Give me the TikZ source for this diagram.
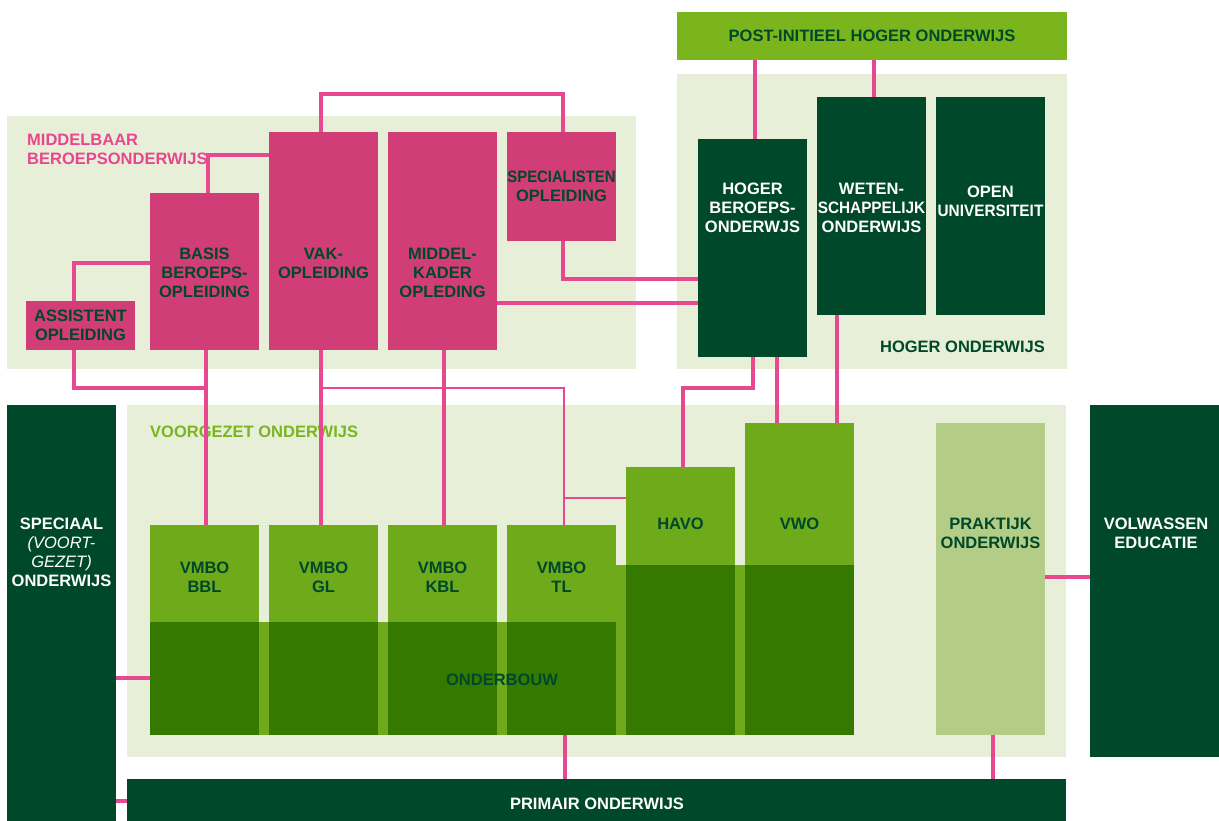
\documentclass[tikz,border=0pt]{standalone}
\usepackage{fontspec}
\setmainfont{Liberation Sans}
\usepackage{graphicx}

\definecolor{panel}{HTML}{E8EFD8}
\definecolor{pinkbox}{HTML}{D13D76}
\definecolor{pinkline}{HTML}{E8488F}
\definecolor{dkgreen}{HTML}{00482A}
\definecolor{postgreen}{HTML}{7AB51E}
\definecolor{midgreen}{HTML}{6FAA1A}
\definecolor{lowgreen}{HTML}{367901}
\definecolor{prakgreen}{HTML}{B4CD86}
\definecolor{votitle}{HTML}{79B51F}
\definecolor{mbotitle}{HTML}{E8468E}

% block from (x1,y1) to (x2,y2), y measured downwards
\newcommand\blk[6]{\node[#6, anchor=north west, inner sep=0pt, outer sep=0pt,
  minimum width={(#4)-(#2)}, minimum height={(#5)-(#3)}] (#1) at (#2,#3) {};}
\newcommand\sq[2]{\scalebox{#1}[1]{#2}}

\begin{document}
\begin{tikzpicture}[x=1pt, y=-1pt,
  panelbox/.style={fill=panel},
  mbobox/.style={fill=pinkbox},
  hobox/.style={fill=dkgreen},
  vobox/.style={fill=midgreen},
  lowbox/.style={fill=lowgreen},
  prakbox/.style={fill=prakgreen},
  postbox/.style={fill=postgreen},
  txt/.style={font=\bfseries\fontsize{16.5}{19}\selectfont, align=center, inner sep=0pt, text=dkgreen},
  wtxt/.style={txt, text=white},
  conn/.style={draw=pinkline, line width=3.8pt},
  thinconn/.style={draw=pinkline, line width=2pt}]

\useasboundingbox (0,0) rectangle (1219,821);

% sector panels
\blk{mbopanel}{7}{116}{636}{369}{panelbox}
\blk{hopanel}{677}{74}{1067}{369}{panelbox}
\blk{vopanel}{127}{405}{1066}{757}{panelbox}
\blk{post}{677}{12}{1067}{60}{postbox}
\blk{spec}{7}{405}{116}{821}{hobox}
\blk{prim}{127}{779}{1066}{821}{hobox}
\blk{volw}{1090}{405}{1219}{757}{hobox}

% panel titles
\node[txt, text=mbotitle, align=left, anchor=west] (mbotitle) at (27,149.5)
  {MIDDELBAAR\\BEROEPSONDERWIJS};
\node[txt, anchor=east] (hotitle) at (1045,347) {HOGER ONDERWIJS};
\node[txt, text=votitle, anchor=west] (votitle) at (150,432) {VOORGEZET ONDERWIJS};

% MBO
\blk{assist}{26}{301}{135}{350}{mbobox}
\blk{basis}{150}{193}{259}{350}{mbobox}
\blk{vak}{269}{132}{378}{350}{mbobox}
\blk{mk}{388}{132}{497}{350}{mbobox}
\blk{specop}{507}{132}{616}{241}{mbobox}

% HO
\blk{hbo}{698}{139}{807}{357}{hobox}
\blk{wo}{817}{97}{926}{315}{hobox}
\blk{ou}{936}{97}{1045}{315}{hobox}

% VO: onderbouw band behind the columns
\blk{band1}{150}{622}{626}{735}{vobox}
\blk{band2}{616}{565}{854}{735}{vobox}
\blk{bbl}{150}{525}{259}{735}{vobox}
\blk{gl}{269}{525}{378}{735}{vobox}
\blk{kbl}{388}{525}{497}{735}{vobox}
\blk{tl}{507}{525}{616}{735}{vobox}
\blk{havo}{626}{467}{735}{735}{vobox}
\blk{vwo}{745}{423}{854}{735}{vobox}
\blk{bbllow}{150}{622}{259}{735}{lowbox}
\blk{gllow}{269}{622}{378}{735}{lowbox}
\blk{kbllow}{388}{622}{497}{735}{lowbox}
\blk{tllow}{507}{622}{616}{735}{lowbox}
\blk{havolow}{626}{565}{735}{735}{lowbox}
\blk{vwolow}{745}{565}{854}{735}{lowbox}
\blk{prak}{936}{423}{1045}{735}{prakbox}

% connectors
\draw[conn] (74,0 |- assist.north) |- (basis.west |- 0,263);
\draw[conn] (208,0 |- basis.north) |- (vak.west |- 0,155);
\draw[conn] (321,0 |- vak.north) -- (321,94) -| (563,0 |- specop.north);
\draw[conn] (563,0 |- specop.south) |- (hbo.west |- 0,279);
\draw[conn] (mk.east |- 0,303) -- (hbo.west |- 0,303);
\draw[conn] (755,0 |- hbo.north) -- (755,0 |- post.south);
\draw[conn] (874,0 |- wo.north) -- (874,0 |- post.south);
\draw[conn] (777,0 |- hbo.south) -- (777,0 |- vwo.north);
\draw[conn] (753,0 |- hbo.south) -- (753,388) -| (683,0 |- havo.north);
\draw[conn] (837,0 |- wo.south) -- (837,0 |- vwo.north);
\draw[conn] (74,0 |- assist.south) |- (206,388);
\draw[conn] (206,0 |- basis.south) -- (206,0 |- bbl.north);
\draw[conn] (321,0 |- vak.south) -- (321,0 |- gl.north);
\draw[thinconn] (321,388) -| (564,0 |- tl.north);
\draw[thinconn] (564,498) -- (havo.west |- 0,498);
\draw[conn] (444,0 |- mk.south) -- (444,0 |- kbl.north);
\draw[conn] (565,0 |- tl.south) -- (565,0 |- prim.north);
\draw[conn] (spec.east |- 0,678) -- (bbl.west |- 0,678);
\draw[conn] (spec.east |- 0,801) -- (prim.west |- 0,801);
\draw[conn] (prak.east |- 0,577) -- (volw.west |- 0,577);
\draw[conn] (993,0 |- prak.south) -- (993,0 |- prim.north);

% labels
\node[txt] (postt) at (872,36) {POST-INITIEEL HOGER ONDERWIJS};
\node[wtxt] (hbot) at (752.5,208) {HOGER\\BEROEPS-\\ONDERWJS};
\node[wtxt] (wot) at (871.5,208) {WETEN-\\\sq{0.93}{SCHAPPELIJK}\\ONDERWIJS};
\node[wtxt] (out) at (990.5,201) {OPEN\\\sq{0.93}{UNIVERSITEIT}};
\node[txt] (assistt) at (80.5,325) {ASSISTENT\\OPLEIDING};
\node[txt] (basist) at (204.5,272.5) {BASIS\\BEROEPS-\\OPLEIDING};
\node[txt] (vakt) at (323.5,263) {VAK-\\OPLEIDING};
\node[txt] (mkt) at (442.5,272.5) {MIDDEL-\\KADER\\OPLEDING};
\node[txt] (spect) at (561.5,186.5) {\sq{0.9}{SPECIALISTEN}\\OPLEIDING};
\node[wtxt] (spect2) at (61.5,552.5) {SPECIAAL\\{\mdseries\itshape (VOORT-}\\{\mdseries\itshape GEZET)}\\ONDERWIJS};
\node[txt] (bblt) at (204.5,577) {VMBO\\BBL};
\node[txt] (glt) at (323.5,577) {VMBO\\GL};
\node[txt] (kblt) at (442.5,577) {VMBO\\KBL};
\node[txt] (tlt) at (561.5,577) {VMBO\\TL};
\node[txt] (havot) at (680.5,524) {HAVO};
\node[txt] (vwot) at (799.5,524) {VWO};
\node[txt] (obt) at (502,680) {ONDERBOUW};
\node[txt] (prakt) at (990.5,533.5) {PRAKTIJK\\ONDERWIJS};
\node[wtxt] (volwt) at (1156,533.5) {VOLWASSEN\\EDUCATIE};
\node[wtxt] (primt) at (597,804) {PRIMAIR ONDERWIJS};

\end{tikzpicture}
\end{document}
